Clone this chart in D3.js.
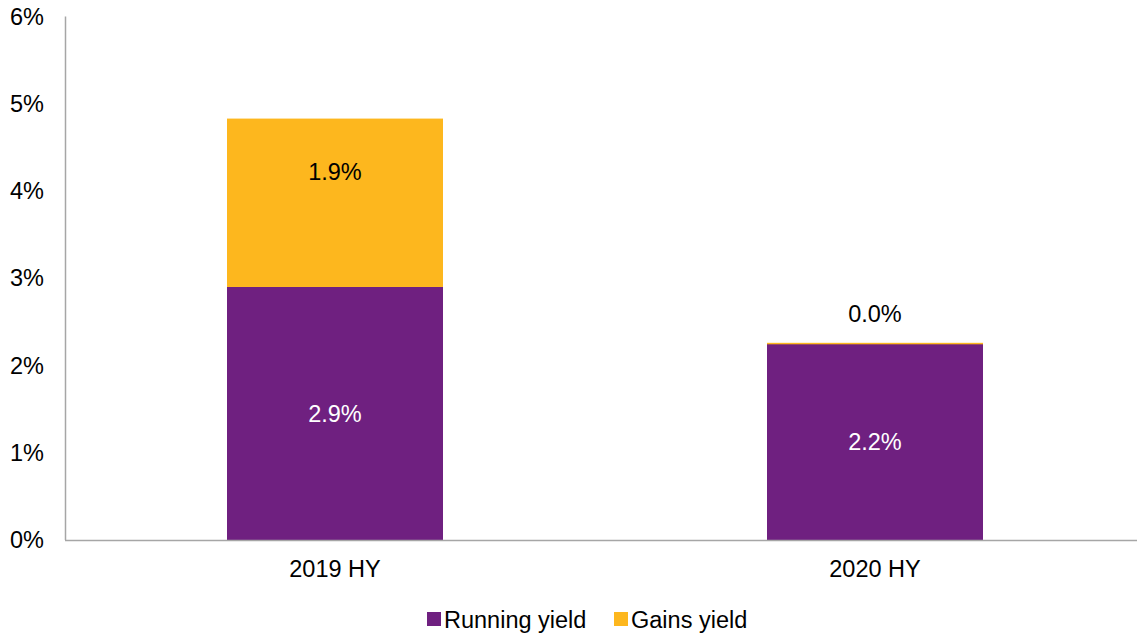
<!DOCTYPE html>
<html>
<head>
<meta charset="utf-8">
<script src="https://cdn.jsdelivr.net/npm/d3@7"></script>
<style>
  body { margin: 0; background: #fff; }
  svg { font-family: "Liberation Sans", Arial, sans-serif; }
</style>
</head>
<body>
<svg width="1137" height="633"></svg>
<script>
const categories = ["2019 HY", "2020 HY"];
const runningYield = [2.9, 2.25];
const gainsYield = [1.93, 0.01];
const runningLabels = ["2.9%", "2.2%"];
const gainsLabels = ["1.9%", "0.0%"];
const yTicks = [0, 1, 2, 3, 4, 5, 6];
const seriesNames = ["Running yield", "Gains yield"];
const colors = ["#6F2080", "#FDB71E"];

const fs = 23.5;
const svg = d3.select("svg");
const x = d3.scaleBand().domain(categories).range([65, 1145]).paddingInner(0.6).paddingOuter(0.3);
const y = d3.scaleLinear().domain([0, 6]).range([540, 16.5]);

// y axis
svg.append("line")
  .attr("x1", 65.5).attr("x2", 65.5)
  .attr("y1", y(6)).attr("y2", y(0))
  .attr("stroke", "#a6a6a6").attr("stroke-width", 1.5);

svg.selectAll("text.ytick").data(yTicks).enter().append("text")
  .attr("class", "ytick")
  .attr("x", 44).attr("y", d => y(d))
  .attr("dy", "0.35em")
  .attr("text-anchor", "end")
  .attr("font-size", fs)
  .text(d => d + "%");

// bars
const g = svg.append("g");
categories.forEach(function(c, i){
  const r = runningYield[i], gy = gainsYield[i];
  g.append("rect")
    .attr("x", x(c)).attr("width", x.bandwidth())
    .attr("y", y(r)).attr("height", y(0) - y(r))
    .attr("fill", colors[0]);
  g.append("rect")
    .attr("x", x(c)).attr("width", x.bandwidth())
    .attr("y", y(r + gy)).attr("height", Math.max(1.5, y(r) - y(r + gy)))
    .attr("fill", colors[1]);
  const cx = x(c) + x.bandwidth() / 2;
  g.append("text")
    .attr("x", cx).attr("y", (y(0) + y(r)) / 2)
    .attr("dy", "0.35em").attr("text-anchor", "middle")
    .attr("font-size", fs).attr("fill", "#fff")
    .text(runningLabels[i]);
  // gains label: inside when bar is tall, above otherwise
  const top = y(r + gy);
  const inside = (y(r) - top) > 40;
  g.append("text")
    .attr("x", cx).attr("y", inside ? top + 53 : top - 29)
    .attr("dy", "0.35em").attr("text-anchor", "middle")
    .attr("font-size", fs).attr("fill", "#000")
    .text(gainsLabels[i]);
});

// x axis
svg.append("line")
  .attr("x1", 65).attr("x2", 1137)
  .attr("y1", 540.5).attr("y2", 540.5)
  .attr("stroke", "#a6a6a6").attr("stroke-width", 1.5);

svg.selectAll("text.xtick").data(categories).enter().append("text")
  .attr("class", "xtick")
  .attr("x", d => x(d) + x.bandwidth() / 2).attr("y", 569)
  .attr("dy", "0.35em").attr("text-anchor", "middle")
  .attr("font-size", fs)
  .text(d => d);

// legend
const legendX = [427, 614];
seriesNames.forEach(function(s, i){
  svg.append("rect")
    .attr("x", legendX[i]).attr("y", 612)
    .attr("width", 14).attr("height", 14)
    .attr("fill", colors[i]);
  svg.append("text")
    .attr("x", legendX[i] + 17).attr("y", 619.5)
    .attr("dy", "0.35em").attr("font-size", fs)
    .text(s);
});
</script>
</body>
</html>
